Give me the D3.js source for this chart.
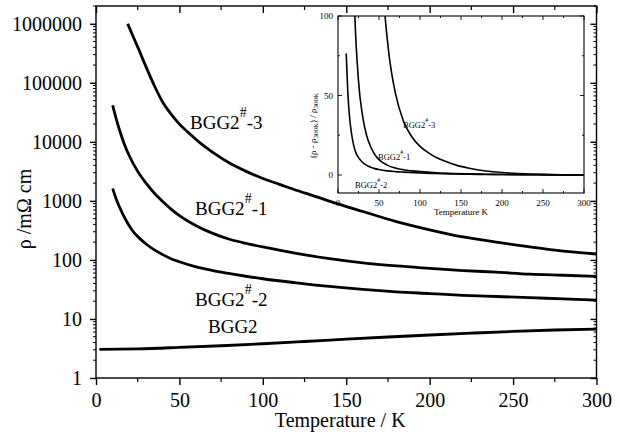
<!DOCTYPE html>
<html>
<head>
<meta charset="utf-8">
<script src="https://cdn.jsdelivr.net/npm/d3@7/dist/d3.min.js"></script>
<style>
  html, body { margin: 0; padding: 0; background: #fff; }
  svg { display: block; }
  text { font-family: "Liberation Serif", "Times New Roman", "DejaVu Serif", serif; fill: #000; }
</style>
</head>
<body>
<div id="chart"></div>
<script>
// ---------- data ----------
const seriesNames = ["BGG2#-3", "BGG2#-1", "BGG2#-2", "BGG2"];

const tempS3 = [19, 22, 26, 30, 35, 40, 45, 50, 56, 62, 70, 80, 90, 100, 110, 120, 130, 145, 160, 180, 200, 220, 240, 260, 280, 300];
const rhoS3  = [1.0e6, 6.31e5, 3.47e5, 1.86e5, 8.91e4, 4.68e4, 2.95e4, 2.0e4, 1.38e4, 9.77e3, 6.61e3, 4.37e3, 3.16e3, 2.40e3, 1.905e3, 1.514e3, 1.23e3, 891, 661, 447, 324, 245, 200, 166, 141, 126];

const tempS1 = [10, 12, 14, 17, 20, 25, 30, 35, 40, 45, 50, 60, 70, 80, 90, 100, 120, 140, 160, 180, 200, 220, 240, 260, 280, 300];
const rhoS1  = [41700, 25100, 16200, 9120, 5750, 3160, 2000, 1350, 977, 724, 562, 380, 282, 224, 191, 166, 129, 105, 89, 79, 72, 66, 62, 57.5, 55, 52.5];

const tempS2 = [10, 12, 14, 16, 19, 22, 26, 30, 35, 40, 45, 50, 60, 70, 80, 100, 120, 140, 160, 180, 200, 220, 240, 260, 280, 300];
const rhoS2  = [1620, 1100, 794, 603, 417, 309, 234, 186, 148, 123, 105, 93, 76, 66, 59, 48, 41, 35.5, 31.6, 28.8, 26.9, 25.1, 24.0, 22.9, 21.9, 20.9];

const tempS0 = [2, 25, 50, 75, 100, 125, 150, 175, 200, 225, 250, 275, 300];
const rhoS0  = [3.05, 3.12, 3.3, 3.52, 3.8, 4.15, 4.55, 4.95, 5.35, 5.75, 6.15, 6.5, 6.75];

const xTicks = [0, 50, 100, 150, 200, 250, 300];
const yTicks = [1, 10, 100, 1000, 10000, 100000, 1000000];
const insetXTicks = [0, 50, 100, 150, 200, 250, 300];
const insetYTicks = [0, 50, 100];

// ---------- layout ----------
const W = 620, H = 440;
const svg = d3.select("#chart").append("svg").attr("width", W).attr("height", H);

const x = d3.scaleLinear().domain([0, 300]).range([96, 596.5]);
const y = d3.scaleLog().domain([1, 2.0e6]).range([378, 6]);

const g = svg.append("g");
const serif = '"Liberation Serif", "Times New Roman", "DejaVu Serif", serif';

// frame
g.append("rect").attr("x", x(0)).attr("y", y(2.0e6)).attr("width", x(300) - x(0)).attr("height", y(1) - y(2.0e6))
  .attr("fill", "none").attr("stroke", "#000").attr("stroke-width", 1.4);

// bottom axis (outward ticks)
const xMinor = d3.range(25, 300, 50);
const bottomAxis = d3.axisBottom(x).tickValues(xTicks).tickSize(7).tickPadding(8).tickFormat(d3.format("d"));
const bA = g.append("g").attr("transform", `translate(0,${y(1)})`).call(bottomAxis);
bA.attr("font-family", null);
bA.select(".domain").remove();
bA.selectAll("line").attr("stroke-width", 1.4);
bA.selectAll("text").style("font-family", serif).style("font-size", "20px");
g.append("g").selectAll("line").data(xMinor).join("line")
  .attr("x1", d => x(d)).attr("x2", d => x(d)).attr("y1", y(1)).attr("y2", y(1) + 4)
  .attr("stroke", "#000").attr("stroke-width", 1.2);
// top axis (inward ticks)
const topAxis = d3.axisBottom(x).tickValues(xTicks).tickSize(7).tickFormat("");
const tA = g.append("g").attr("transform", `translate(0,${y(2.0e6)})`).call(topAxis);
tA.select(".domain").remove();
tA.selectAll("line").attr("stroke-width", 1.4);
g.append("g").selectAll("line").data(xMinor).join("line")
  .attr("x1", d => x(d)).attr("x2", d => x(d)).attr("y1", y(2.0e6)).attr("y2", y(2.0e6) + 4)
  .attr("stroke", "#000").attr("stroke-width", 1.2);

// left axis
const leftAxis = d3.axisLeft(y).tickValues(yTicks).tickSize(6).tickPadding(8).tickFormat(d3.format("d"));
const lA = g.append("g").attr("transform", `translate(${x(0)},0)`).call(leftAxis);
lA.attr("font-family", null);
lA.select(".domain").remove();
lA.selectAll("line").attr("stroke-width", 1.4);
lA.selectAll("text").style("font-family", serif).style("font-size", "20px");
const yMinor = [];
for (let e = 0; e <= 6; e++) for (let m = 2; m <= 9; m++) { const v = m * Math.pow(10, e); if (v <= 2.0e6) yMinor.push(v); }
g.append("g").selectAll("line").data(yMinor).join("line")
  .attr("x1", x(0) - 3).attr("x2", x(0)).attr("y1", d => y(d)).attr("y2", d => y(d))
  .attr("stroke", "#000").attr("stroke-width", 1);
// right axis (inward)
const rightAxis = d3.axisLeft(y).tickValues(yTicks).tickSize(6).tickFormat("");
const rA = g.append("g").attr("transform", `translate(${x(300)},0)`).call(rightAxis);
rA.select(".domain").remove();
rA.selectAll("line").attr("stroke-width", 1.4);
g.append("g").selectAll("line").data(yMinor).join("line")
  .attr("x1", x(300) - 3).attr("x2", x(300)).attr("y1", d => y(d)).attr("y2", d => y(d))
  .attr("stroke", "#000").attr("stroke-width", 1);

// axis titles
g.append("text").attr("x", (x(0) + x(300)) / 2 - 6).attr("y", 427).attr("text-anchor", "middle")
  .style("font-size", "20px").text("Temperature / K");
g.append("text").attr("transform", "translate(31,209) rotate(-90)").attr("text-anchor", "middle")
  .style("font-size", "20px").text("ρ /mΩ cm");

// curves
const mainSeries = [
  { name: seriesNames[0], t: tempS3, r: rhoS3 },
  { name: seriesNames[1], t: tempS1, r: rhoS1 },
  { name: seriesNames[2], t: tempS2, r: rhoS2 },
  { name: seriesNames[3], t: tempS0, r: rhoS0 }
];
const line = d3.line().x(d => x(d[0])).y(d => y(d[1])).curve(d3.curveMonotoneX);
g.append("g").selectAll("path").data(mainSeries).join("path")
  .attr("d", s => line(s.t.map((t, i) => [t, s.r[i]])))
  .attr("fill", "none").attr("stroke", "#000").attr("stroke-width", 2.8).attr("stroke-linejoin", "round");

// series labels
function label(parent, xp, yp, name, fs, supFs, shift) {
  const parts = name.split("#");
  const t = parent.append("text").attr("x", xp).attr("y", yp).style("font-size", fs + "px");
  t.append("tspan").text(parts[0]);
  if (parts.length > 1) {
    t.append("tspan").attr("dy", -shift).style("font-size", supFs + "px").text("#");
    t.append("tspan").attr("dy", shift).text(parts[1]);
  }
}
label(g, 190, 129, seriesNames[0], 19, 14, 12);
label(g, 195, 215, seriesNames[1], 19, 14, 12);
label(g, 195, 306, seriesNames[2], 19, 14, 12);
label(g, 208, 333, seriesNames[3], 19, 14, 12);

// ---------- inset ----------
const ix = d3.scaleLinear().domain([0, 300]).range([338, 584]);
const iy = d3.scaleLinear().domain([-11.3, 100]).range([193, 16]);
const ins = svg.append("g");
ins.append("rect").attr("x", ix(0)).attr("y", iy(100)).attr("width", ix(300) - ix(0)).attr("height", iy(-11.3) - iy(100))
  .attr("fill", "#fff").attr("stroke", "#000").attr("stroke-width", 1.1);
ins.append("clipPath").attr("id", "iclip").append("rect")
  .attr("x", ix(0)).attr("y", iy(100)).attr("width", ix(300) - ix(0)).attr("height", iy(-11.3) - iy(100));

const ixMinor = d3.range(25, 300, 50);
const iyMinor = [25, 75];
const tickSets = [
  ...insetXTicks.map(v => ({ x1: ix(v), x2: ix(v), y1: iy(-11.3), y2: iy(-11.3) - 4 })),
  ...ixMinor.map(v => ({ x1: ix(v), x2: ix(v), y1: iy(-11.3), y2: iy(-11.3) - 2 })),
  ...insetXTicks.map(v => ({ x1: ix(v), x2: ix(v), y1: iy(100), y2: iy(100) + 4 })),
  ...ixMinor.map(v => ({ x1: ix(v), x2: ix(v), y1: iy(100), y2: iy(100) + 2 })),
  ...insetYTicks.map(v => ({ x1: ix(0), x2: ix(0) + 4, y1: iy(v), y2: iy(v) })),
  ...iyMinor.map(v => ({ x1: ix(0), x2: ix(0) + 2, y1: iy(v), y2: iy(v) })),
  ...insetYTicks.map(v => ({ x1: ix(300), x2: ix(300) - 4, y1: iy(v), y2: iy(v) })),
  ...iyMinor.map(v => ({ x1: ix(300), x2: ix(300) - 2, y1: iy(v), y2: iy(v) }))
];
ins.append("g").selectAll("line").data(tickSets).join("line")
  .attr("x1", d => d.x1).attr("x2", d => d.x2).attr("y1", d => d.y1).attr("y2", d => d.y2)
  .attr("stroke", "#000").attr("stroke-width", 0.9);
ins.append("g").selectAll("text").data(insetXTicks).join("text")
  .attr("x", d => ix(d)).attr("y", 206).attr("text-anchor", "middle").style("font-size", "9px").text(d => d);
ins.append("g").selectAll("text").data(insetYTicks).join("text")
  .attr("x", 333).attr("y", d => iy(d) + 3).attr("text-anchor", "end").style("font-size", "9px").text(d => d);
ins.append("text").attr("x", (ix(0) + ix(300)) / 2).attr("y", 215).attr("text-anchor", "middle")
  .style("font-size", "9px").text("Temperature K");
const iyl = ins.append("text").attr("transform", "translate(316,158) rotate(-90)").attr("text-anchor", "start").style("font-size", "9px");
iyl.append("tspan").text("(ρ - ρ");
iyl.append("tspan").attr("dy", 2).style("font-size", "7px").text("300K");
iyl.append("tspan").attr("dy", -2).text(") / ρ");
iyl.append("tspan").attr("dy", 2).style("font-size", "7px").text("300K");

const insetSeries = mainSeries.slice(0, 3).map(s => {
  const r300 = s.r[s.r.length - 1];
  return { name: s.name, pts: s.t.map((t, i) => [t, (s.r[i] - r300) / r300]) };
});
const iline = d3.line().x(d => ix(d[0])).y(d => iy(d[1])).curve(d3.curveMonotoneX);
ins.append("g").attr("clip-path", "url(#iclip)").selectAll("path").data(insetSeries).join("path")
  .attr("d", s => iline(s.pts)).attr("fill", "none").attr("stroke", "#000").attr("stroke-width", 1.6);

label(ins, 403, 128, seriesNames[0], 8.5, 6, 6);
label(ins, 378, 160, seriesNames[1], 8.5, 6, 6);
label(ins, 355, 188, seriesNames[2], 8.5, 6, 6);
</script>
</body>
</html>
